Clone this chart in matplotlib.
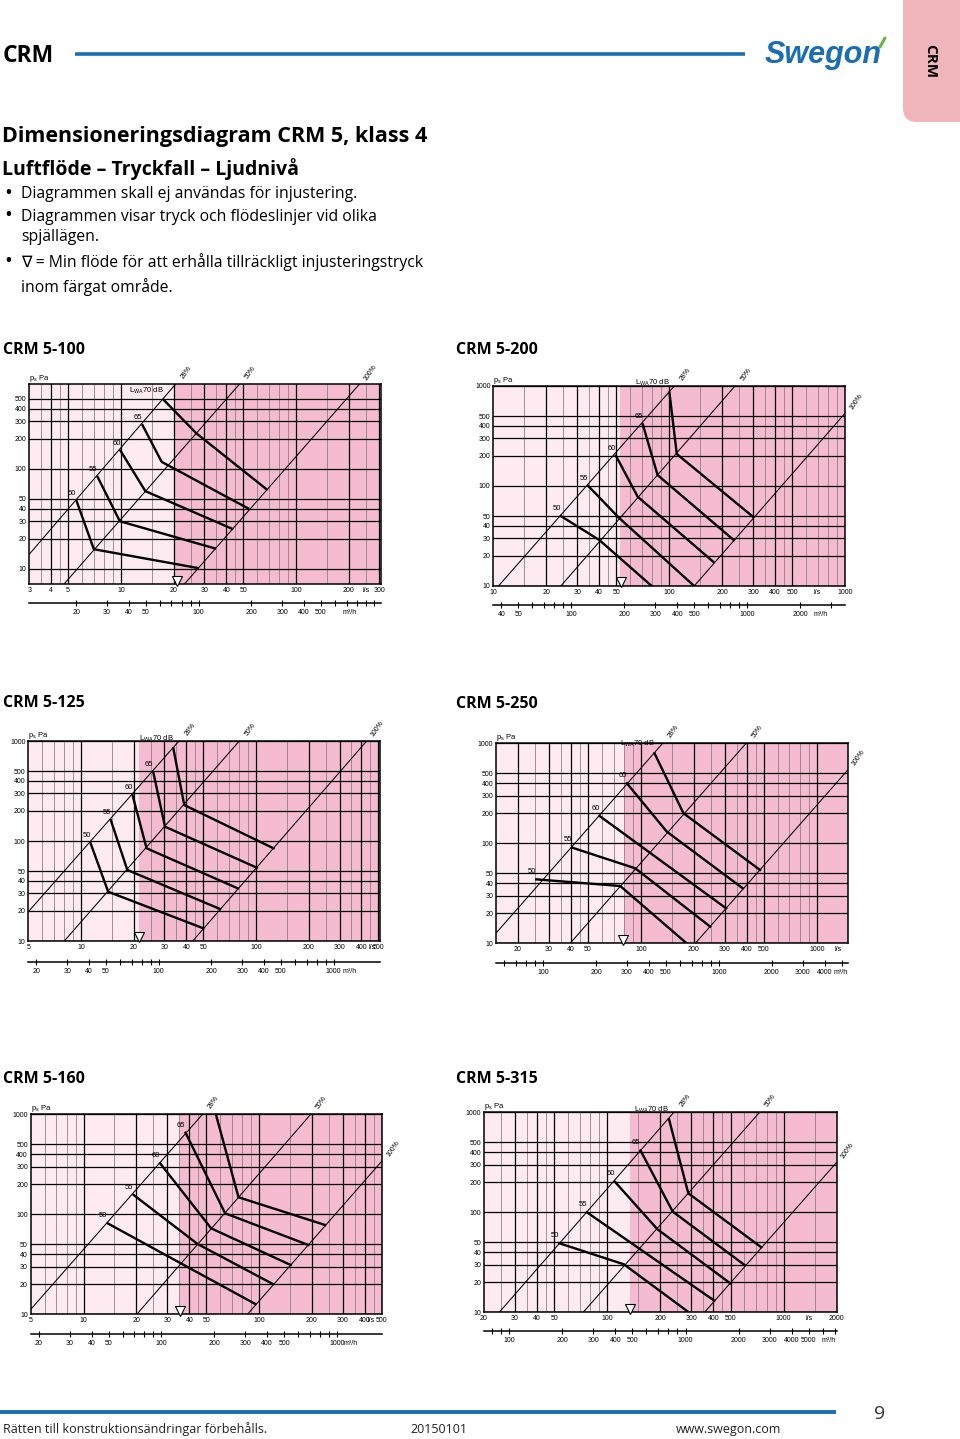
import matplotlib.pyplot as plt
import matplotlib.transforms as mtransforms
from matplotlib.patches import FancyBboxPatch
from matplotlib.ticker import FixedLocator, FixedFormatter, NullLocator

plt.rcParams["font.family"] = ["Liberation Sans", "DejaVu Sans"]
PAGE_FONT = ["Open Sans", "DejaVu Sans"]

W, H = 960, 1439
PINK_LIGHT = "#fdebf1"
PINK_DARK = "#f5bcd1"
BLUE = "#1b6db4"
TAB = "#efb5bb"

PA_TICKS = [10, 20, 30, 40, 50, 100, 200, 300, 400, 500, 1000]

# ---------------- CRM 5-100 ----------------
CRM100_XLIM = (3, 306)
CRM100_YLIM = (7, 700)
CRM100_LS = [3, 4, 5, 10, 20, 30, 40, 50, 100, 200, 300]
CRM100_M3H = [20, 30, 40, 50, 100, 200, 300, 400, 500]
CRM100_SPLIT = 20
CRM100_VMIN = 20.8
CRM100_DAMPERS = {"28%": ([3, 20.5], [14, 700]),
                  "50%": ([4.72, 47.5], [7, 700]),
                  "100%": ([23, 230], [7, 700])}
CRM100_LWA = {50: ([5.58, 7.01, 27.4], [47.9, 15.7, 10.2]),
              55: ([7.36, 9.87, 34.4], [83.2, 29.9, 16.0]),
              60: ([9.96, 13.8, 43.3], [151.5, 59.8, 25.1]),
              65: ([13.3, 17.1, 53.4], [273, 117.4, 40.1]),
              70: ([17.6, 27.1, 68.1], [487, 225, 62.2])}

# ---------------- CRM 5-200 ----------------
CRM200_XLIM = (10, 1000)
CRM200_YLIM = (10, 1000)
CRM200_LS = [10, 20, 30, 40, 50, 100, 200, 300, 400, 500, 1000]
CRM200_M3H = [40, 50, 100, 200, 300, 400, 500, 1000, 2000]
CRM200_SPLIT = 52.6
CRM200_VMIN = 52.9
CRM200_DAMPERS = {"28%": ([10.7, 107], [10, 1000]),
                  "50%": ([24.2, 237], [10, 1000]),
                  "100%": ([138.8, 1000], [10, 533])}
CRM200_LWA = {50: ([24.2, 40.1, 79.6], [50.1, 28.8, 10]),
              55: ([34.7, 51.5, 138.8], [100, 48.6, 10]),
              60: ([49.8, 66.2, 178], [201, 78.2, 17.5]),
              65: ([70.8, 85.9, 233], [414, 128.8, 28.8]),
              70: ([100.4, 110.5, 299.6], [858, 209, 49.3])}

# ---------------- CRM 5-125 ----------------
CRM125_XLIM = (5, 511)
CRM125_YLIM = (10, 1000)
CRM125_LS = [5, 10, 20, 30, 40, 50, 100, 200, 300, 400, 500]
CRM125_M3H = [20, 30, 40, 50, 100, 200, 300, 400, 500, 1000]
CRM125_SPLIT = 21.5
CRM125_VMIN = 21.5
CRM125_DAMPERS = {"28%": ([5, 36.3], [19.6, 1000]),
                  "50%": ([8.03, 80.3], [10, 1000]),
                  "100%": ([43.5, 429], [10, 1000])}
CRM125_LWA = {50: ([11.35, 14.3, 50.0], [94.8, 31.1, 13.4]),
              55: ([14.8, 18.4, 62.3], [162, 51.3, 20.9]),
              60: ([19.7, 23.7, 78.7], [288, 84.5, 33.6]),
              65: ([25.9, 30.2, 101], [486, 139, 54.1]),
              70: ([33.7, 38.9, 125.9], [845, 229, 84.5])}

# ---------------- CRM 5-250 ----------------
CRM250_XLIM = (15, 1500)
CRM250_YLIM = (10, 1000)
CRM250_LS = [20, 30, 40, 50, 100, 200, 300, 400, 500, 1000]
CRM250_M3H = [100, 200, 300, 400, 500, 1000, 2000, 3000, 4000]
CRM250_SPLIT = 80
CRM250_VMIN = 79
CRM250_DAMPERS = {"28%": ([15.1, 133], [12.8, 1000]),
                  "50%": ([39.6, 396.6], [10, 1000]),
                  "100%": ([204, 1500], [10, 540])}
CRM250_LWA = {50: ([25.4, 76.3, 182], [43.6, 37.4, 10]),
              55: ([40.6, 92.9, 247.6], [90.6, 56.2, 14.7]),
              60: ([58.2, 305], [187.7, 22.4]),
              65: ([83.3, 140.5, 379.5], [398, 130.6, 35.5]),
              70: ([119.6, 174.7, 476], [794, 199.5, 54.1])}

# ---------------- CRM 5-160 ----------------
CRM160_XLIM = (5, 503)
CRM160_YLIM = (10, 1000)
CRM160_LS = [5, 10, 20, 30, 40, 50, 100, 200, 300, 400, 500]
CRM160_M3H = [20, 30, 40, 50, 100, 200, 300, 400, 500, 1000]
CRM160_SPLIT = 35
CRM160_VMIN = 35.5
CRM160_DAMPERS = {"28%": ([5, 47.6], [11.2, 1000]),
                  "50%": ([20.1, 196.8], [10, 1000]),
                  "100%": ([85.8, 503], [10, 344])}
CRM160_LWA = {50: ([13.7, 94.9], [81.3, 12.7]),
              55: ([19.3, 44.6, 119.6], [156, 50.5, 20.1]),
              60: ([27.3, 53.3, 151.4], [323.6, 72.4, 31.1]),
              65: ([38.1, 64.0, 191], [655, 102.3, 49.3]),
              70: ([56.7, 76.3, 237.6], [1000, 148, 78.2])}

# ---------------- CRM 5-315 ----------------
CRM315_XLIM = (20, 2000)
CRM315_YLIM = (10, 1000)
CRM315_LS = [20, 30, 40, 50, 100, 200, 300, 400, 500, 1000, 2000]
CRM315_M3H = [100, 200, 300, 400, 500, 1000, 2000, 3000, 4000, 5000]
CRM315_SPLIT = 134
CRM315_VMIN = 134
CRM315_DAMPERS = {"28%": ([24.4, 238.6], [10, 1000]),
                  "50%": ([73, 731], [10, 1000]),
                  "100%": ([356, 2000], [10, 316])}
CRM315_LWA = {50: ([53.5, 124.2, 290], [49.0, 30.2, 10]),
              55: ([76.7, 404], [100, 13.1]),
              60: ([110.2, 192.6, 498], [203, 67.6, 19.5]),
              65: ([154.4, 235, 601], [415, 101.6, 29.7]),
              70: ([224, 288, 747], [851, 155, 44.7])}

LWA_TXT = r"L$_\mathregular{WA}$70 dB"
LABELS_ALL = {50: "50", 55: "55", 60: "60", 65: "65", 70: LWA_TXT}
LABELS_NO70 = {50: "50", 55: "55", 60: "60", 65: "65"}

# layout: plot box (l, t, r, b) in px, m3/h axis y, unit label positions
CHARTS = [
    dict(title="CRM 5-100", tpos=(3, 354), box=(29.3, 384.3, 381, 584.3), m3y=602,
         xlim=CRM100_XLIM, ylim=CRM100_YLIM, ls=CRM100_LS, ls_unit=251,
         m3=CRM100_M3H, m3_unit=731, split=CRM100_SPLIT, vmin=CRM100_VMIN,
         dampers=CRM100_DAMPERS, lwa=CRM100_LWA, labels=LABELS_ALL),
    dict(title="CRM 5-200", tpos=(456, 354), box=(493.3, 386, 845, 586), m3y=604,
         xlim=CRM200_XLIM, ylim=CRM200_YLIM, ls=CRM200_LS, ls_unit=693,
         m3=CRM200_M3H, m3_unit=2606, split=CRM200_SPLIT, vmin=CRM200_VMIN,
         dampers=CRM200_DAMPERS, lwa=CRM200_LWA, labels=LABELS_ALL),
    dict(title="CRM 5-125", tpos=(3, 707), box=(28.3, 741, 380, 941), m3y=961.7,
         xlim=CRM125_XLIM, ylim=CRM125_YLIM, ls=CRM125_LS, ls_unit=458,
         m3=CRM125_M3H, m3_unit=1238, split=CRM125_SPLIT, vmin=CRM125_VMIN,
         dampers=CRM125_DAMPERS, lwa=CRM125_LWA, labels=LABELS_ALL),
    dict(title="CRM 5-250", tpos=(456, 708), box=(496, 743.3, 847.7, 943.3), m3y=962.3,
         xlim=CRM250_XLIM, ylim=CRM250_YLIM, ls=CRM250_LS, ls_unit=1327,
         m3=CRM250_M3H, m3_unit=4900, split=CRM250_SPLIT, vmin=CRM250_VMIN,
         dampers=CRM250_DAMPERS, lwa=CRM250_LWA, labels=LABELS_ALL),
    dict(title="CRM 5-160", tpos=(3, 1083), box=(30.7, 1114.3, 382.3, 1314.3), m3y=1333.3,
         xlim=CRM160_XLIM, ylim=CRM160_YLIM, ls=CRM160_LS, ls_unit=436,
         m3=CRM160_M3H, m3_unit=1188, split=CRM160_SPLIT, vmin=CRM160_VMIN,
         dampers=CRM160_DAMPERS, lwa=CRM160_LWA, labels=LABELS_NO70),
    dict(title="CRM 5-315", tpos=(456, 1083), box=(484, 1112.3, 836.7, 1312.3), m3y=1330.7,
         xlim=CRM315_XLIM, ylim=CRM315_YLIM, ls=CRM315_LS, ls_unit=1403,
         m3=CRM315_M3H, m3_unit=6444, split=CRM315_SPLIT, vmin=CRM315_VMIN,
         dampers=CRM315_DAMPERS, lwa=CRM315_LWA, labels=LABELS_ALL),
]

fig = plt.figure(figsize=(W / 100, H / 100), dpi=100)

# page overlay in pixel coordinates
page = fig.add_axes([0, 0, 1, 1])
page.set_xlim(0, W)
page.set_ylim(H, 0)
page.axis("off")


def ptext(x, y, s, size, weight="normal", **kw):
    page.text(x, y, s, fontsize=size, fontweight=weight, family=PAGE_FONT,
              va=kw.pop("va", "baseline"), **kw)


# header
ptext(3, 62, "CRM", 16.5, "bold")
page.plot([75, 745], [54, 54], color=BLUE, lw=2.6, solid_capstyle="butt")
page.text(765, 63, "Swegon", fontsize=22, fontweight="bold", style="italic",
          color=BLUE, family="Liberation Sans", va="baseline")
page.plot([880, 885], [47, 38], color="#6cb33f", lw=2.2, solid_capstyle="round")
page.add_patch(FancyBboxPatch((903, -40), 90, 162, boxstyle="round,pad=0,rounding_size=14",
                              fc=TAB, ec="none"))
ptext(930, 61, "CRM", 11, "bold", rotation=-90, ha="center", va="center")

# intro text
ptext(2, 142, "Dimensioneringsdiagram CRM 5, klass 4", 15.5, "bold")
ptext(2, 175, "Luftflöde – Tryckfall – Ljudnivå", 14, "bold")
BULLETS = [(198, "•", "Diagrammen skall ej användas för injustering."),
           (221, "•", "Diagrammen visar tryck och flödeslinjer vid olika"),
           (241, "", "spjällägen."),
           (267, "•", "∇ = Min flöde för att erhålla tillräckligt injusteringstryck"),
           (292, "", "inom färgat område.")]
for y, b, s in BULLETS:
    if b:
        ptext(8, y - 5, b, 15, ha="center", va="center")
    ptext(21, y, s, 11.3)

# footer
page.plot([0, 836], [1412, 1412], color=BLUE, lw=2.8, solid_capstyle="butt")
ptext(880, 1419, "9", 14, ha="center", color="#333333")
ptext(3, 1433, "Rätten till konstruktionsändringar förbehålls.", 9, color="#222222")
ptext(410, 1433, "20150101", 9, color="#222222")
ptext(676, 1433, "www.swegon.com", 9, color="#222222")


def grid_values(lo, hi):
    vals = []
    d = 1
    while d < hi:
        for m in [1, 1.5, 2, 2.5, 3, 3.5, 4, 4.5, 5, 6, 7, 8, 9]:
            v = m * d
            if lo < v < hi:
                vals.append(v)
        d *= 10
    return vals


def tick_marks(lo, hi):
    vals = []
    d = 1
    while d < hi:
        for m in range(1, 10):
            if lo < m * d < hi:
                vals.append(m * d)
        d *= 10
    return vals


def draw_chart(c):
    l, t, r, b = c["box"]
    xlim, ylim = c["xlim"], c["ylim"]
    ptext(c["tpos"][0], c["tpos"][1], c["title"], 11.5, "bold")

    ax = fig.add_axes([l / W, 1 - b / H, (r - l) / W, (b - t) / H])
    ax.set_xscale("log")
    ax.set_yscale("log")
    ax.set_xlim(*xlim)
    ax.set_ylim(*ylim)
    ax.axvspan(xlim[0], c["split"], color=PINK_LIGHT, lw=0, zorder=0)
    ax.axvspan(c["split"], xlim[1], color=PINK_DARK, lw=0, zorder=0)

    for v in grid_values(*xlim):
        if v in c["ls"]:
            ax.axvline(v, color="black", lw=0.9, zorder=1)
        else:
            ax.axvline(v, color="#857a7f", lw=0.55, zorder=1)
    yt = [p for p in PA_TICKS if ylim[0] <= p <= ylim[1]]
    for p in yt:
        ax.axhline(p, color="black", lw=0.9, zorder=1)

    for name, (q, p) in c["dampers"].items():
        ax.plot(q, p, color="black", lw=0.75, zorder=2)
        ax.annotate(name, (q[-1], p[-1]), xytext=(8, 8.5), textcoords="offset points",
                    rotation=55, ha="center", va="center", fontsize=5,
                    annotation_clip=False)

    for lvl, (q, p) in c["lwa"].items():
        ax.plot(q, p, color="black", lw=1.7, zorder=3, solid_joinstyle="miter")
        if lvl in c["labels"]:
            ax.annotate(c["labels"][lvl], (q[0], p[0]), xytext=(0, 3),
                        textcoords="offset points", ha="right", va="bottom",
                        fontsize=5.5, zorder=4)

    tri = mtransforms.offset_copy(ax.transData, fig=fig, x=0, y=3.6, units="dots")
    ax.plot([c["vmin"]], [ylim[0]], marker="v", ms=7, mfc="white", mec="black",
            mew=0.8, transform=tri, clip_on=False, zorder=5)

    ax.xaxis.set_major_locator(FixedLocator(c["ls"] + [c["ls_unit"]]))
    ax.xaxis.set_major_formatter(FixedFormatter([str(v) for v in c["ls"]] + ["l/s"]))
    ax.xaxis.set_minor_locator(NullLocator())
    ax.yaxis.set_major_locator(FixedLocator(yt))
    ax.yaxis.set_major_formatter(FixedFormatter([str(v) for v in yt]))
    ax.yaxis.set_minor_locator(NullLocator())
    ax.tick_params(length=0, labelsize=5, pad=2)
    ax.text(0, 1, r"p$_\mathregular{s}$ Pa", transform=ax.transAxes, fontsize=5.5,
            ha="left", va="bottom")
    for s in ax.spines.values():
        s.set_linewidth(1.1)

    # m3/h scale
    my = c["m3y"]
    ax2 = fig.add_axes([l / W, 1 - (my + 0.5) / H, (r - l) / W, 1 / H])
    ax2.set_xscale("log")
    ax2.set_xlim(xlim[0] * 3.6, xlim[1] * 3.6)
    ax2.patch.set_visible(False)
    for s in ("top", "left", "right"):
        ax2.spines[s].set_visible(False)
    ax2.spines["bottom"].set_linewidth(1.1)
    ax2.set_yticks([])
    marks = tick_marks(xlim[0] * 3.6, xlim[1] * 3.6)
    ax2.xaxis.set_major_locator(FixedLocator(marks))
    ax2.xaxis.set_major_formatter(FixedFormatter([str(v) if v in c["m3"] else ""
                                                  for v in marks]))
    ax2.xaxis.set_minor_locator(NullLocator())
    ax2.tick_params(axis="x", direction="inout", length=5, width=0.8, labelsize=5, pad=2)
    ax2.annotate("m³/h", (c["m3_unit"], 0), xycoords=("data", "axes fraction"),
                 xytext=(0, -4.5), textcoords="offset points", ha="center", va="top",
                 fontsize=5, annotation_clip=False)


for chart in CHARTS:
    draw_chart(chart)

fig.savefig("out.png", dpi=100)
